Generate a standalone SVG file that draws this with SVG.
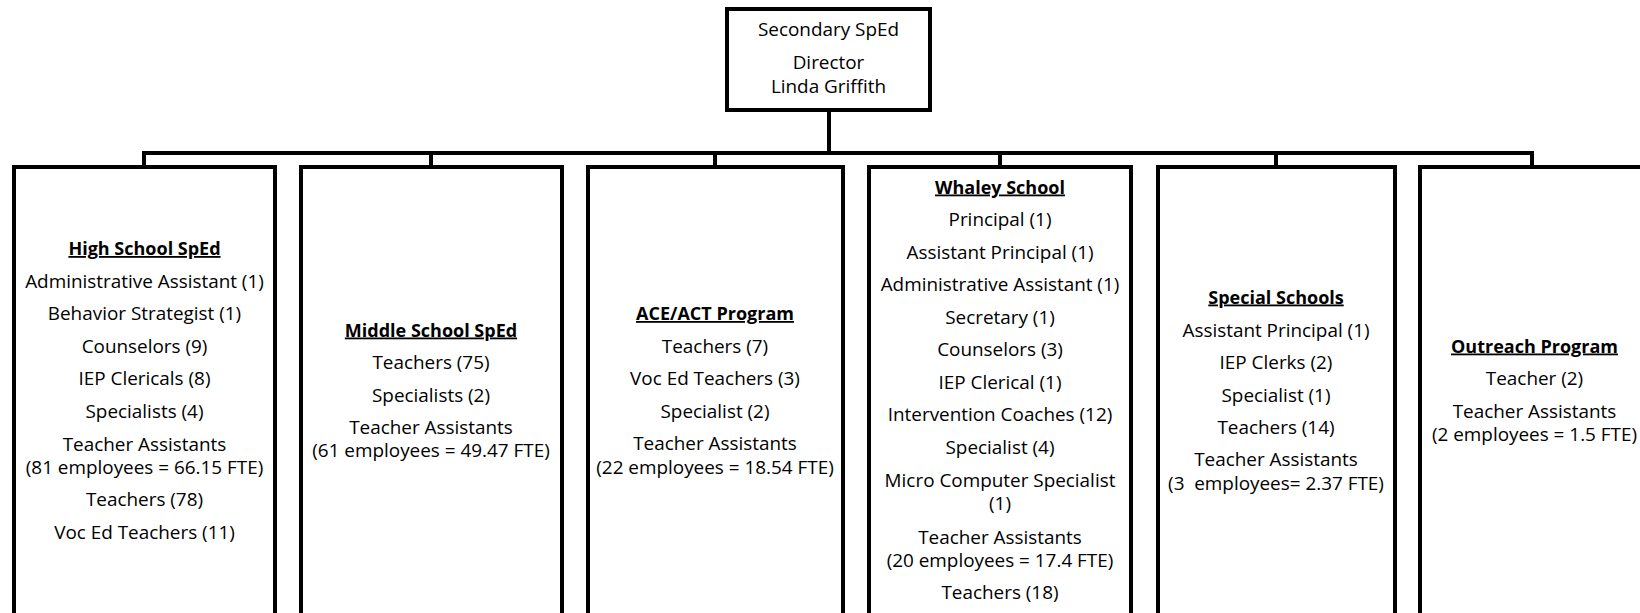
<svg xmlns="http://www.w3.org/2000/svg" width="1640" height="613" viewBox="0 0 1640 613">
<style>
.box{fill:#fff;stroke:#000;stroke-width:4}
.con{fill:none;stroke:#000;stroke-width:4}
text{font-family:"Open Sans","Liberation Sans",sans-serif;font-size:18.9px;fill:#000;text-anchor:middle}
.h{font-weight:700;text-decoration:underline;font-size:18px}
</style>
<rect x="0" y="0" width="1640" height="613" fill="#fff"/>
<g id="connectors">
<line class="con" x1="829" y1="110" x2="829" y2="153"/>
<polyline class="con" points="144,167 144,153 1532,153 1532,167"/>
<line class="con" x1="431" y1="153" x2="431" y2="167"/>
<line class="con" x1="715" y1="153" x2="715" y2="167"/>
<line class="con" x1="1000" y1="153" x2="1000" y2="167"/>
<line class="con" x1="1276" y1="153" x2="1276" y2="167"/>
</g>
<g id="director">
<rect class="box" x="727" y="9" width="203" height="101"/>
<text x="828.5" y="36">Secondary SpEd</text>
<text x="828.5" y="69">Director</text>
<text x="828.5" y="93">Linda Griffith</text>
</g>
<g id="high-school">
<rect class="box" x="14" y="167" width="261" height="480"/>
<text class="h" x="144.5" y="255">High School SpEd</text>
<text x="144.5" y="287.5">Administrative Assistant (1)</text>
<text x="144.5" y="320">Behavior Strategist (1)</text>
<text x="144.5" y="352.5">Counselors (9)</text>
<text x="144.5" y="385">IEP Clericals (8)</text>
<text x="144.5" y="417.5">Specialists (4)</text>
<text x="144.5" y="450.5">Teacher Assistants</text>
<text x="144.5" y="473.5">(81 employees = 66.15 FTE)</text>
<text x="144.5" y="506">Teachers (78)</text>
<text x="144.5" y="538.5">Voc Ed Teachers (11)</text>
</g>
<g id="middle-school">
<rect class="box" x="301" y="167" width="261" height="480"/>
<text class="h" x="431" y="336.5">Middle School SpEd</text>
<text x="431" y="369">Teachers (75)</text>
<text x="431" y="401.5">Specialists (2)</text>
<text x="431" y="433.5">Teacher Assistants</text>
<text x="431" y="457">(61 employees = 49.47 FTE)</text>
</g>
<g id="ace-act">
<rect class="box" x="588" y="167" width="255" height="480"/>
<text class="h" x="715" y="320">ACE/ACT Program</text>
<text x="715" y="352.5">Teachers (7)</text>
<text x="715" y="385">Voc Ed Teachers (3)</text>
<text x="715" y="417.5">Specialist (2)</text>
<text x="715" y="450">Teacher Assistants</text>
<text x="715" y="473.5">(22 employees = 18.54 FTE)</text>
</g>
<g id="whaley">
<rect class="box" x="869" y="167" width="262" height="480"/>
<text class="h" x="1000" y="193.5">Whaley School</text>
<text x="1000" y="226">Principal (1)</text>
<text x="1000" y="258.5">Assistant Principal (1)</text>
<text x="1000" y="291">Administrative Assistant (1)</text>
<text x="1000" y="323.5">Secretary (1)</text>
<text x="1000" y="356">Counselors (3)</text>
<text x="1000" y="388.5">IEP Clerical (1)</text>
<text x="1000" y="421">Intervention Coaches (12)</text>
<text x="1000" y="453.5">Specialist (4)</text>
<text x="1000" y="486.5">Micro Computer Specialist</text>
<text x="1000" y="510">(1)</text>
<text x="1000" y="543.5">Teacher Assistants</text>
<text x="1000" y="566.5">(20 employees = 17.4 FTE)</text>
<text x="1000" y="598.5">Teachers (18)</text>
</g>
<g id="special-schools">
<rect class="box" x="1158" y="167" width="237" height="480"/>
<text class="h" x="1276" y="303.5">Special Schools</text>
<text x="1276" y="336.5">Assistant Principal (1)</text>
<text x="1276" y="369">IEP Clerks (2)</text>
<text x="1276" y="401.5">Specialist (1)</text>
<text x="1276" y="433.5">Teachers (14)</text>
<text x="1276" y="466">Teacher Assistants</text>
<text x="1276" y="489.5" xml:space="preserve">(3  employees= 2.37 FTE)</text>
</g>
<g id="outreach">
<rect class="box" x="1420" y="167" width="250" height="480"/>
<text class="h" x="1534.5" y="352.5">Outreach Program</text>
<text x="1534.5" y="385">Teacher (2)</text>
<text x="1534.5" y="417.5">Teacher Assistants</text>
<text x="1534.5" y="440.5">(2 employees = 1.5 FTE)</text>
</g>
</svg>
